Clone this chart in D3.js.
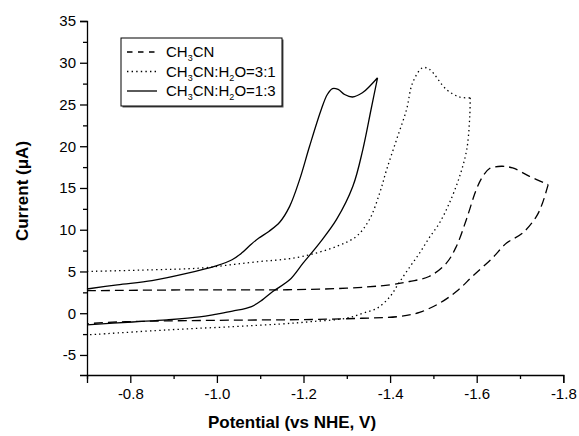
<!DOCTYPE html>
<html>
<head>
<meta charset="utf-8">
<script src="https://cdn.jsdelivr.net/npm/d3@7"></script>
<style>
  body { margin: 0; background: #fff; }
  svg { display: block; }
</style>
</head>
<body>
<div id="chart"></div>
<script>
// Cyclic voltammograms: [potential (V vs NHE), current (uA)]
const ch3cnForward = [[-0.70, 2.7], [-0.96, 2.8], [-1.145, 2.8], [-1.30, 3.0], [-1.40, 3.4], [-1.445, 3.8],
  [-1.49, 4.4], [-1.53, 6.0], [-1.553, 8.0], [-1.576, 11.2], [-1.599, 14.8], [-1.613, 16.3],
  [-1.629, 17.3], [-1.657, 17.6], [-1.683, 17.4], [-1.722, 16.4], [-1.765, 15.4]];
const ch3cnReverse = [[-1.765, 15.4], [-1.752, 13.2], [-1.738, 11.6], [-1.706, 9.6], [-1.669, 8.4],
  [-1.636, 6.6], [-1.59, 4.4], [-1.553, 2.6], [-1.514, 1.2], [-1.468, 0.1], [-1.42, -0.4],
  [-1.336, -0.6], [-1.221, -0.75], [-1.0, -0.85], [-0.85, -0.95], [-0.77, -1.05], [-0.70, -1.25]];

const mix31Forward = [[-0.70, 5.0], [-0.85, 5.2], [-0.96, 5.4], [-1.04, 5.85], [-1.10, 6.2], [-1.145, 6.4],
  [-1.198, 6.8], [-1.276, 8.0], [-1.322, 9.2], [-1.352, 11.2], [-1.376, 14.4], [-1.392, 17.2],
  [-1.415, 20.8], [-1.438, 24.4], [-1.452, 27.6], [-1.475, 29.4], [-1.491, 29.2], [-1.53, 26.8],
  [-1.56, 25.9], [-1.585, 25.8]];
const mix31Reverse = [[-1.585, 25.8], [-1.584, 23.6], [-1.577, 19.6], [-1.56, 16.3], [-1.537, 13.2],
  [-1.514, 10.8], [-1.49, 9.0], [-1.468, 7.2], [-1.445, 5.5], [-1.42, 3.6], [-1.40, 2.0],
  [-1.37, 0.6], [-1.337, 0.0], [-1.299, -0.6], [-1.22, -1.0], [-1.145, -1.3], [-1.04, -1.6],
  [-0.885, -2.0], [-0.70, -2.6]];

const mix13Forward = [[-0.70, 2.9], [-0.77, 3.4], [-0.85, 3.9], [-0.925, 4.7], [-1.00, 5.7], [-1.035, 6.4],
  [-1.057, 7.2], [-1.08, 8.3], [-1.097, 9.0], [-1.12, 9.8], [-1.145, 10.9], [-1.168, 12.8],
  [-1.191, 16.0], [-1.214, 20.0], [-1.241, 24.4], [-1.255, 26.2], [-1.267, 26.9], [-1.28, 26.8],
  [-1.295, 26.2], [-1.313, 25.9], [-1.336, 26.4], [-1.355, 27.3], [-1.371, 28.2]];
const mix13Reverse = [[-1.371, 28.2], [-1.356, 24.4], [-1.337, 19.6], [-1.314, 15.2], [-1.276, 11.2],
  [-1.237, 8.4], [-1.199, 6.0], [-1.168, 4.0], [-1.129, 2.6], [-1.105, 1.6], [-1.08, 0.8],
  [-1.036, 0.25], [-1.0, -0.1], [-0.96, -0.45], [-0.884, -0.8], [-0.805, -1.05], [-0.70, -1.4]];

const xMajor = [-0.8, -1.0, -1.2, -1.4, -1.6, -1.8];
const xMinor = [-0.7, -0.9, -1.1, -1.3, -1.5, -1.7];
const yMajor = [-5, 0, 5, 10, 15, 20, 25, 30, 35];
const yMinor = [-2.5, 2.5, 7.5, 12.5, 17.5, 22.5, 27.5, 32.5];

const width = 579, height = 436;
const font = "'Liberation Sans', Arial, sans-serif";

const x = d3.scaleLinear().domain([-0.7, -1.8]).range([87, 563.3]);
const y = d3.scaleLinear().domain([-7.4, 35]).range([375, 21]);

const svg = d3.select("#chart").append("svg")
    .attr("width", width)
    .attr("height", height)
    .style("font-family", font);

// axes
svg.append("g")
    .attr("transform", `translate(0,${y.range()[0]})`)
    .call(d3.axisBottom(x).tickValues(xMajor).tickSize(8).tickPadding(5).tickFormat(d3.format(".1f")));
svg.append("g")
    .attr("transform", `translate(0,${y.range()[0]})`)
    .call(d3.axisBottom(x).tickValues(xMinor).tickSize(4).tickFormat(""))
    .select(".domain").remove();

svg.append("g")
    .attr("transform", `translate(${x.range()[0]},0)`)
    .call(d3.axisLeft(y).tickValues(yMajor).tickSize(7).tickPadding(4));
svg.append("g")
    .attr("transform", `translate(${x.range()[0]},0)`)
    .call(d3.axisLeft(y).tickValues(yMinor).tickSize(4).tickFormat(""))
    .select(".domain").remove();

svg.selectAll(".domain").attr("stroke", "#000").attr("stroke-width", 1.3);
svg.selectAll(".tick line").attr("stroke", "#000").attr("stroke-width", 1.3);
svg.selectAll(".tick text")
    .attr("fill", "#000")
    .style("font-family", font)
    .style("font-size", "15px");
// formatter gives a unicode minus; original uses a hyphen
svg.selectAll(".tick text").text(function() { return this.textContent.replace("\u2212", "-"); });

// axis titles
svg.append("text")
    .attr("x", 292)
    .attr("y", 428)
    .attr("text-anchor", "middle")
    .style("font-size", "17px")
    .style("font-weight", "bold")
    .text("Potential (vs NHE, V)");

svg.append("text")
    .attr("transform", "translate(28,191) rotate(-90)")
    .attr("text-anchor", "middle")
    .style("font-size", "17px")
    .style("font-weight", "bold")
    .text("Current (\u03BCA)");

// curves
const line = d3.line()
    .x(d => x(d[0]))
    .y(d => y(d[1]))
    .curve(d3.curveCatmullRom.alpha(0.5));

const series = [
  { fwd: ch3cnForward, rev: ch3cnReverse, dash: "9,5", legendDash: "5.5,5.5" },
  { fwd: mix31Forward, rev: mix31Reverse, dash: "1.4,3.2", legendDash: "1.4,3.2" },
  { fwd: mix13Forward, rev: mix13Reverse, dash: null, legendDash: null }
];

series.forEach(s => {
  svg.append("path")
      .attr("d", line(s.fwd) + line(s.rev))
      .attr("fill", "none")
      .attr("stroke", "#000")
      .attr("stroke-width", 1.3)
      .attr("stroke-dasharray", s.dash);
});

// legend
const legend = svg.append("g").attr("transform", "translate(121,38)");
legend.append("rect")
    .attr("x", 1.5).attr("y", 1.5)
    .attr("width", 161).attr("height", 68)
    .attr("fill", "#555");
legend.append("rect")
    .attr("width", 161).attr("height", 68)
    .attr("fill", "#fff")
    .attr("stroke", "#000")
    .attr("stroke-width", 1);

const labels = [
  [["CH", 0], ["3", 1], ["CN", 0]],
  [["CH", 0], ["3", 1], ["CN:H", 0], ["2", 1], ["O=3:1", 0]],
  [["CH", 0], ["3", 1], ["CN:H", 0], ["2", 1], ["O=1:3", 0]]
];
const rowY = [14, 33.5, 53];

series.forEach((s, i) => {
  legend.append("line")
      .attr("x1", 6).attr("x2", 36)
      .attr("y1", rowY[i]).attr("y2", rowY[i])
      .attr("stroke", "#000")
      .attr("stroke-width", 1.3)
      .attr("stroke-dasharray", s.legendDash);
  const t = legend.append("text")
      .attr("x", 45)
      .attr("y", rowY[i] + 5)
      .style("font-size", "15px");
  let shifted = false;
  labels[i].forEach(([str, sub]) => {
    const ts = t.append("tspan").text(str);
    if (sub && !shifted) { ts.attr("dy", 4).style("font-size", "9px"); shifted = true; }
    else if (!sub && shifted) { ts.attr("dy", -4); shifted = false; }
  });
});
</script>
</body>
</html>
